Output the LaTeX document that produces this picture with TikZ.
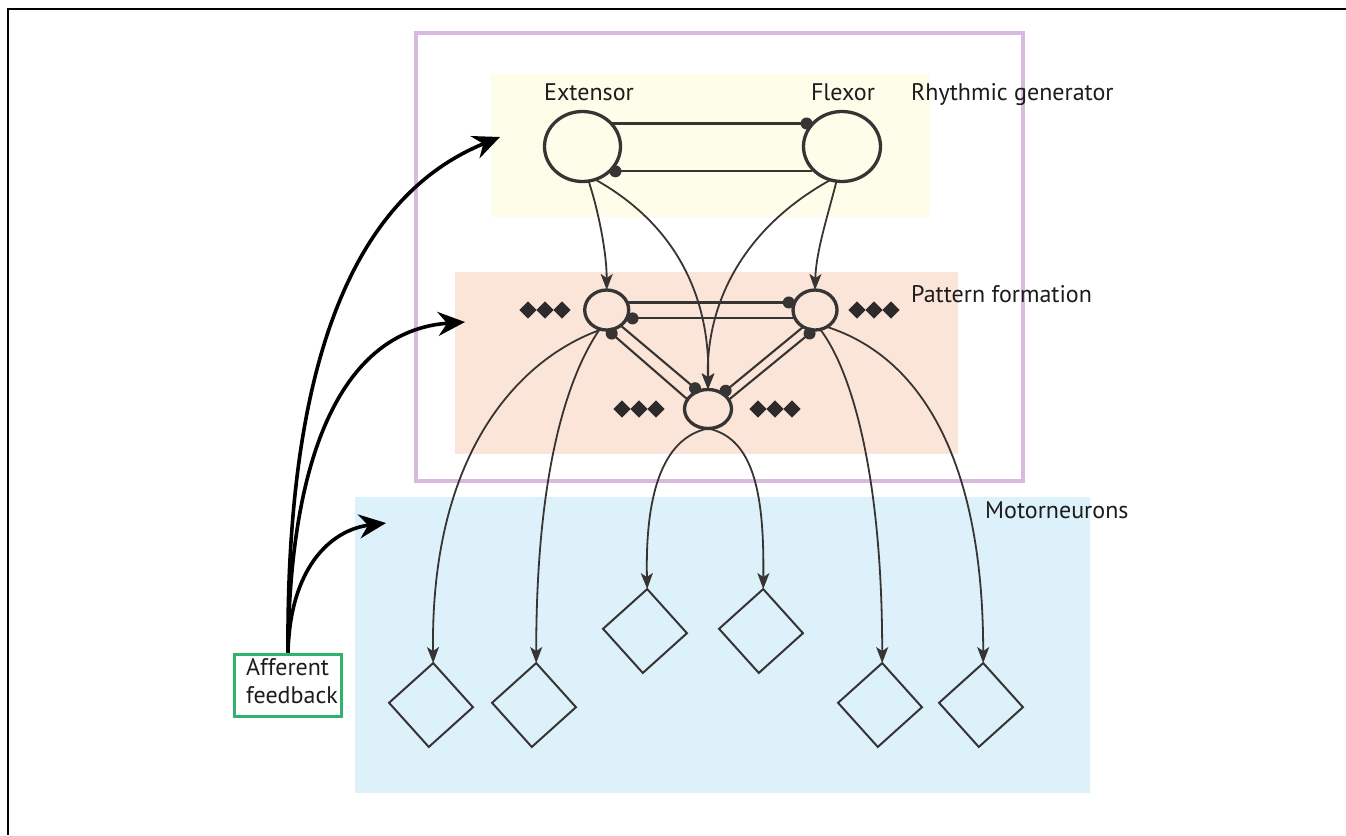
\documentclass[tikz,border=0pt]{standalone}
\usepackage{fontspec}
\setmainfont{PT Sans}
\usetikzlibrary{shapes.geometric,arrows.meta,calc}
\definecolor{boxpurple}{RGB}{216,186,222}
\definecolor{rgbg}{RGB}{254,253,234}
\definecolor{pfbg}{RGB}{251,228,216}
\definecolor{mnbg}{RGB}{221,241,251}
\definecolor{ink}{RGB}{55,52,52}
\definecolor{affgreen}{RGB}{46,178,110}
\definecolor{txt}{RGB}{28,28,28}
\begin{document}
\begin{tikzpicture}[x=1pt,y=-1pt,
  lbl/.style={text=txt,font=\fontsize{24}{28}\selectfont,inner sep=0pt},
  cell/.style={ellipse,draw=ink,line width=3.3pt,inner sep=0pt,outer sep=0pt},
  motor/.style={diamond,draw=ink,line width=2pt,minimum width=84pt,minimum height=84pt,inner sep=0pt,outer sep=0pt,rotate=-3},
  mk/.style={diamond,fill=ink!80!black,minimum width=17.5pt,minimum height=17.5pt,inner sep=0pt},
  conn/.style={draw=ink,line width=2.1pt},
  arr/.style={draw=ink,line width=1.8pt,-{Stealth[length=16pt,width=12pt,inset=4pt]}},
  aff/.style={draw=black,line width=3.6pt,-{Stealth[length=27pt,width=24pt,inset=9pt]}},
  dotr/.style={fill=ink}
]
\useasboundingbox (0,0) rectangle (1346,835);
\fill[white] (0,0) rectangle (1346,835);
% frame
\draw[line width=2pt] (1346,9) -- (8,9) -- (8,835);
% backgrounds
\fill[mnbg] (355,497) rectangle (1090,793);
\fill[pfbg] (455,272) rectangle (958,454);
\fill[rgbg] (491,74) rectangle (930,217);
\draw[boxpurple,line width=3.5pt] (416,33) rectangle (1023,481);

% labels
\node[lbl,anchor=base] (extlab) at (589,100) {Extensor};
\node[lbl,anchor=base] (flxlab) at (843,100) {Flexor};
\node[lbl,anchor=base west] (rglab) at (911,100) {Rhythmic generator};
\node[lbl,anchor=base west] (pflab) at (911,302) {Pattern formation};
\node[lbl,anchor=base west] (mnlab) at (985,518) {Motorneurons};

% rhythm generator cells
\node[cell,minimum width=76pt,minimum height=70pt] (ext) at (582.5,146.5) {};
\node[cell,minimum width=77pt,minimum height=70pt] (flx) at (842,146.5) {};

% pattern formation cells
\node[cell,minimum width=44pt,minimum height=40pt] (lpf) at (606.7,310) {};
\node[cell,minimum width=44pt,minimum height=40pt] (rpf) at (815,310) {};
\node[cell,minimum width=47pt,minimum height=39pt] (bpf) at (708,409) {};

% motor neurons
\node[motor] (m1) at (431,705) {};
\node[motor] (m2) at (534,705) {};
\node[motor] (m3) at (645,631) {};
\node[motor] (m4) at (761,631) {};
\node[motor] (m5) at (880,705) {};
\node[motor] (m6) at (981,705) {};

% markers
\foreach \i/\x in {1/528,2/545,3/562} \node[mk] (mka\i) at (\x,310) {};
\foreach \i/\x in {1/857,2/874,3/891} \node[mk] (mkb\i) at (\x,310) {};
\foreach \i/\x in {1/622,2/639,3/656} \node[mk] (mkc\i) at (\x,409) {};
\foreach \i/\x in {1/758,2/775,3/792} \node[mk] (mkd\i) at (\x,409) {};

% inhibitory connections, rhythm generator
\coordinate (fd) at ($(flx.center)!1.13!(flx.147)$);
\coordinate (ed) at ($(ext.center)!1.12!(ext.-37)$);
\draw[conn] (ext.40 |- fd) -- (fd);
\draw[conn] (ed) -- (ed -| flx.215);
\fill[dotr] (fd) circle (6);
\fill[dotr] (ed) circle (6);

% inhibitory connections, pattern formation
\coordinate (rd1) at ($(rpf.center)!1.25!(rpf.164)$);
\coordinate (ld1) at ($(lpf.center)!1.25!(lpf.-18)$);
\draw[conn] (lpf.20 |- rd1) -- (rd1);
\draw[conn] (ld1) -- (ld1 -| rpf.200);
\coordinate (ld2) at ($(lpf.center)!1.2!(lpf.-78)$);
\coordinate (bd1) at ($(bpf.center)!1.2!(bpf.122)$);
\coordinate (rd2) at ($(rpf.center)!1.2!(rpf.-103)$);
\coordinate (bd2) at ($(bpf.center)!1.2!(bpf.46)$);
\draw[conn] (ld2) -- (bpf.155);
\draw[conn] (lpf.-48) -- (bd1);
\draw[conn] (rd2) -- (bpf.24);
\draw[conn] (rpf.-125) -- (bd2);
\foreach \p in {rd1,ld1,ld2,bd1,rd2,bd2} \fill[dotr] (\p) circle (6);

% excitatory projections from rhythm generator
\draw[arr] (ext.-80) .. controls ($(ext.-80)+(9,27)$) and ($(lpf.north)+(0,-39)$) .. (lpf.north);
\draw[arr] (ext.-69) .. controls ($(ext.-69)+(84,47)$) and ($(bpf.north)+(2,-89)$) .. (bpf.north);
\draw[arr] (flx.-109) .. controls ($(flx.-109)+(-85,47)$) and ($(bpf.north)+(-2,-89)$) .. (bpf.north);
\draw[arr] (flx.-99) .. controls ($(flx.-99)+(-8,32)$) and ($(rpf.north)+(1,-39)$) .. (rpf.north);

% projections to motor neurons
\draw[arr] (lpf.-105) .. controls ($(lpf.-105)+(-80,28)$) and ($(m1.north)+(-3,-213)$) .. (m1.north);
\draw[arr] (lpf.-110) .. controls ($(lpf.-110)+(-32,47)$) and ($(m2.north)+(0,-193)$) .. (m2.north);
\draw[arr] (rpf.-75) .. controls ($(rpf.-75)+(30,39)$) and ($(m5.north)+(0,-193)$) .. (m5.north);
\draw[arr] (rpf.-55) .. controls ($(rpf.-55)+(94,30)$) and ($(m6.north)+(0,-203)$) .. (m6.north);
\draw[arr] (bpf.south) .. controls ($(bpf.south)+(-48,10)$) and ($(m3.north)+(-2,-89)$) .. (m3.north);
\draw[arr] (bpf.south) .. controls ($(bpf.south)+(48,10)$) and ($(m4.north)+(1,-89)$) .. (m4.north);

% afferent feedback
\node[draw=affgreen,line width=3pt,minimum width=107pt,minimum height=62pt,inner sep=0pt] (afb) at (288,685) {};
\node[lbl,anchor=base west] (afbt1) at (246,675) {Afferent};
\node[lbl,anchor=base west] (afbt2) at (246,703) {feedback};
\coordinate (rgin) at (500,137);
\coordinate (pfin) at (465,322);
\coordinate (mnin) at (386,523);
\draw[aff] (afb.north) .. controls ($(afb.north)+(-2,-324)$) and (370,190) .. (rgin);
\draw[aff] (afb.north) .. controls ($(afb.north)+(2,-214)$) and (350,330) .. (pfin);
\draw[aff] (afb.north) .. controls ($(afb.north)+(2,-84)$) and (330,530) .. (mnin);
\end{tikzpicture}
\end{document}
